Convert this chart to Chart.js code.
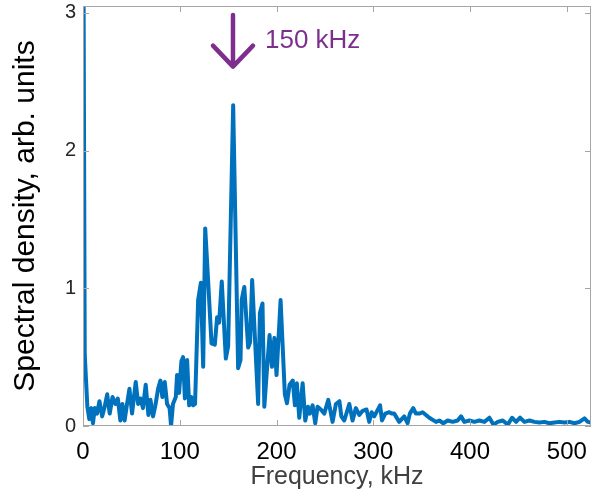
<!DOCTYPE html>
<html>
<head>
<meta charset="utf-8">
<script src="https://cdn.jsdelivr.net/npm/chart.js@4/dist/chart.umd.min.js"></script>
<style>
  html, body { margin: 0; padding: 0; background: #fff; }
  #contenedor { width: 594px; height: 493px; }
</style>
</head>
<body>
<div id="contenedor"><canvas id="espectroChart" width="594" height="493"></canvas></div>
<script>
// Frecuencias (kHz) y densidad espectral
const frecuencias = [
  0, 1.8, 4.5, 6.5, 8.5, 10.3, 12.2, 14.5, 17, 19.8, 22.4, 25, 27.6, 30.5, 33.5, 36, 38.6, 40.7, 43, 45.5,
  48, 50.7, 54.5, 57, 59.3, 62, 64.8, 67.6, 69.7, 72.4, 74.8, 77.6, 80, 82, 84.5, 86.9, 89.5, 91, 93, 95.9,
  97.2, 99.3, 101.7, 103.4, 105.3, 107.6, 109.7, 112.1, 113.8, 115.8, 119, 121.8, 124.2, 126.3, 128.5, 132.8, 136.2, 138.6, 140.7, 143.4,
  147.6, 150, 155.2, 160.3, 162.8, 164, 166.7, 170.7, 172.7, 174.8, 181, 182.8, 185.5, 187.4, 190.3, 192.8, 195.3, 197.8, 200, 204.2,
  208.6, 210.8, 213.5, 216.8, 219, 221, 223.5, 227, 229.7, 232.5, 234.5, 237.3, 240, 242.4, 245.8, 249.3, 253.5, 257.9, 261.4, 265,
  267, 270, 275.2, 278.6, 282, 285.5, 289, 293, 295.8, 298.3, 301, 307, 309, 312.4, 316.5, 319, 321.6, 326.8, 332, 335.4,
  337.8, 341.3, 344, 347.5, 351, 357.9, 364.8, 368.2, 372.4, 376.9, 382, 387.2, 390.7, 394.1, 399.3, 404.5, 409.6, 414.8, 420, 424.1,
  428.6, 433.8, 439, 443.4, 447.6, 451.7, 456.2, 461.4, 466.5, 471.7, 476.9, 482, 487.2, 492.4, 497.6, 502.8, 507.9, 513.1, 518.3, 521.7,
  525.2
];
const densidad = [
  4.5, 0.52, 0.14, 0.05, 0.13, 0.02, 0.13, 0.09, 0.18, 0.07, 0.14, 0.23, 0.09, 0.21, 0.16, 0.2, 0.04, 0.16, 0.04, 0.16,
  0.27, 0.09, 0.32, 0.16, 0.2, 0.13, 0.3, 0.08, 0.19, 0.07, 0.15, 0.27, 0.33, 0.21, 0.32, 0.16, 0.13, 0.0, 0.16, 0.21,
  0.37, 0.24, 0.47, 0.5, 0.2, 0.48, 0.15, 0.21, 0.15, 0.16, 0.915, 1.04, 0.43, 1.435, 1.16, 0.6, 0.59, 0.79, 0.75, 1.05,
  0.49, 0.58, 2.33, 0.42, 0.48, 0.915, 1.01, 0.57, 0.61, 1.06, 0.16, 0.82, 0.89, 0.14, 0.43, 0.66, 0.43, 0.64, 0.37, 0.915,
  0.23, 0.165, 0.3, 0.33, 0.15, 0.31, 0.06, 0.31, 0.04, 0.14, 0.09, 0.15, 0.02, 0.14, 0.12, 0.09, 0.19, 0.03, 0.16, 0.18,
  0.07, 0.04, 0.16, 0.04, 0.13, 0.08, 0.11, 0.12, 0.03, 0.1, 0.07, 0.15, 0.04, 0.09, 0.1, 0.09, 0.09, 0.03, 0.07, 0.02,
  0.09, 0.13, 0.09, 0.09, 0.1, 0.06, 0.03, 0.04, 0.02, 0.04, 0.03, 0.04, 0.07, 0.03, 0.04, 0.03, 0.04, 0.03, 0.06, 0.01,
  0.03, 0.04, 0.01, 0.06, 0.03, 0.06, 0.03, 0.04, 0.03, 0.025, 0.03, 0.02, 0.025, 0.03, 0.025, 0.03, 0.02, 0.03, 0.055, 0.03,
  0.025
];

// Marcas de los ejes
const ticksX = [0, 100, 200, 300, 400, 500];
const ticksY = [0, 1, 2, 3];

// Anotación de la flecha
const flechaFrecuencia = 155;
const flechaArriba = 2.985;
const flechaPunta = 2.61;
const flechaTexto = '150 kHz';

const colorLinea = '#0072BD';
const colorMorado = '#7E2F8E';

document.addEventListener('DOMContentLoaded', function() {
    // Marco con marcas hacia adentro (estilo MATLAB)
    const marcoPlugin = {
        id: 'marco',
        afterDatasetsDraw(chart) {
            const { ctx, chartArea } = chart;
            const { left, right, top, bottom } = chartArea;
            const escalaX = chart.scales.x;
            const escalaY = chart.scales.y;
            const largo = 6;
            ctx.save();
            ctx.strokeStyle = '#a6a6a6';
            ctx.lineWidth = 1;
            ctx.strokeRect(Math.round(left) + 0.5, Math.round(top) + 0.5, Math.round(right - left) - 1, Math.round(bottom - top) - 1);
            ctx.beginPath();
            ticksX.forEach(v => {
                const px = Math.round(escalaX.getPixelForValue(v)) + 0.5;
                ctx.moveTo(px, bottom);
                ctx.lineTo(px, bottom - largo);
                ctx.moveTo(px, top);
                ctx.lineTo(px, top + largo);
            });
            ticksY.forEach(v => {
                const py = Math.round(escalaY.getPixelForValue(v)) + 0.5;
                ctx.moveTo(left, py);
                ctx.lineTo(left + largo, py);
                ctx.moveTo(right, py);
                ctx.lineTo(right - largo, py);
            });
            ctx.stroke();
            ctx.restore();
        },
        afterDraw(chart) {
            const { ctx } = chart;
            const x = chart.scales.x.getPixelForValue(flechaFrecuencia);
            const yArriba = chart.scales.y.getPixelForValue(flechaArriba);
            const yPunta = chart.scales.y.getPixelForValue(flechaPunta);
            ctx.save();
            ctx.strokeStyle = colorMorado;
            ctx.lineWidth = 4.5;
            ctx.lineCap = 'round';
            ctx.lineJoin = 'round';
            ctx.beginPath();
            ctx.moveTo(x, yArriba);
            ctx.lineTo(x, yPunta);
            ctx.moveTo(x - 20, yPunta - 21);
            ctx.lineTo(x, yPunta);
            ctx.lineTo(x + 20, yPunta - 21);
            ctx.stroke();
            ctx.fillStyle = colorMorado;
            ctx.font = '26px "Liberation Sans", Arial, sans-serif';
            ctx.textBaseline = 'middle';
            ctx.textAlign = 'left';
            ctx.fillText(flechaTexto, x + 32, yArriba + 26);
            ctx.restore();
        }
    };

    const puntos = frecuencias.map((f, i) => ({ x: f, y: densidad[i] }));

    const ctx = document.getElementById('espectroChart').getContext('2d');
    const chart = new Chart(ctx, {
        type: 'line',
        data: {
            datasets: [{
                label: 'Spectral density',
                data: puntos,
                borderColor: colorLinea,
                borderWidth: 4,
                borderJoinStyle: 'round',
                borderCapStyle: 'round',
                pointRadius: 0,
                tension: 0,
                fill: false
            }]
        },
        options: {
            responsive: false,
            animation: false,
            layout: { padding: { top: 6, right: 3, left: 0, bottom: 0 } },
            plugins: {
                legend: { display: false },
                tooltip: { enabled: false }
            },
            scales: {
                x: {
                    type: 'linear',
                    min: 0,
                    max: 525,
                    grid: { display: false, drawTicks: false },
                    border: { display: false },
                    afterBuildTicks: (escala) => { escala.ticks = ticksX.map(v => ({ value: v })); },
                    afterFit: (escala) => {
                        escala.height = 67;
                        escala.paddingLeft = 0;
                        escala.paddingRight = 0;
                    },
                    ticks: {
                        color: '#000',
                        padding: 12,
                        maxRotation: 0,
                        font: { family: '"Liberation Sans", Arial, sans-serif', size: 24 }
                    },
                    title: {
                        display: true,
                        text: 'Frequency, kHz',
                        color: '#404040',
                        padding: { top: 0, bottom: 1 },
                        font: { family: '"Liberation Sans", Arial, sans-serif', size: 25 }
                    }
                },
                y: {
                    type: 'linear',
                    min: 0,
                    max: 3.05,
                    grid: { display: false, drawTicks: false },
                    border: { display: false },
                    afterBuildTicks: (escala) => { escala.ticks = ticksY.map(v => ({ value: v })); },
                    afterFit: (escala) => {
                        escala.width = 83;
                        escala.paddingTop = 0;
                        escala.paddingBottom = 0;
                    },
                    ticks: {
                        color: '#262626',
                        padding: 7,
                        font: { family: '"Liberation Sans", Arial, sans-serif', size: 20 }
                    },
                    title: {
                        display: true,
                        text: 'Spectral density, arb. units',
                        color: '#000',
                        padding: { top: 8, bottom: 0 },
                        font: { family: '"Liberation Sans", Arial, sans-serif', size: 30 }
                    }
                }
            }
        },
        plugins: [marcoPlugin]
    });
});
</script>
</body>
</html>
